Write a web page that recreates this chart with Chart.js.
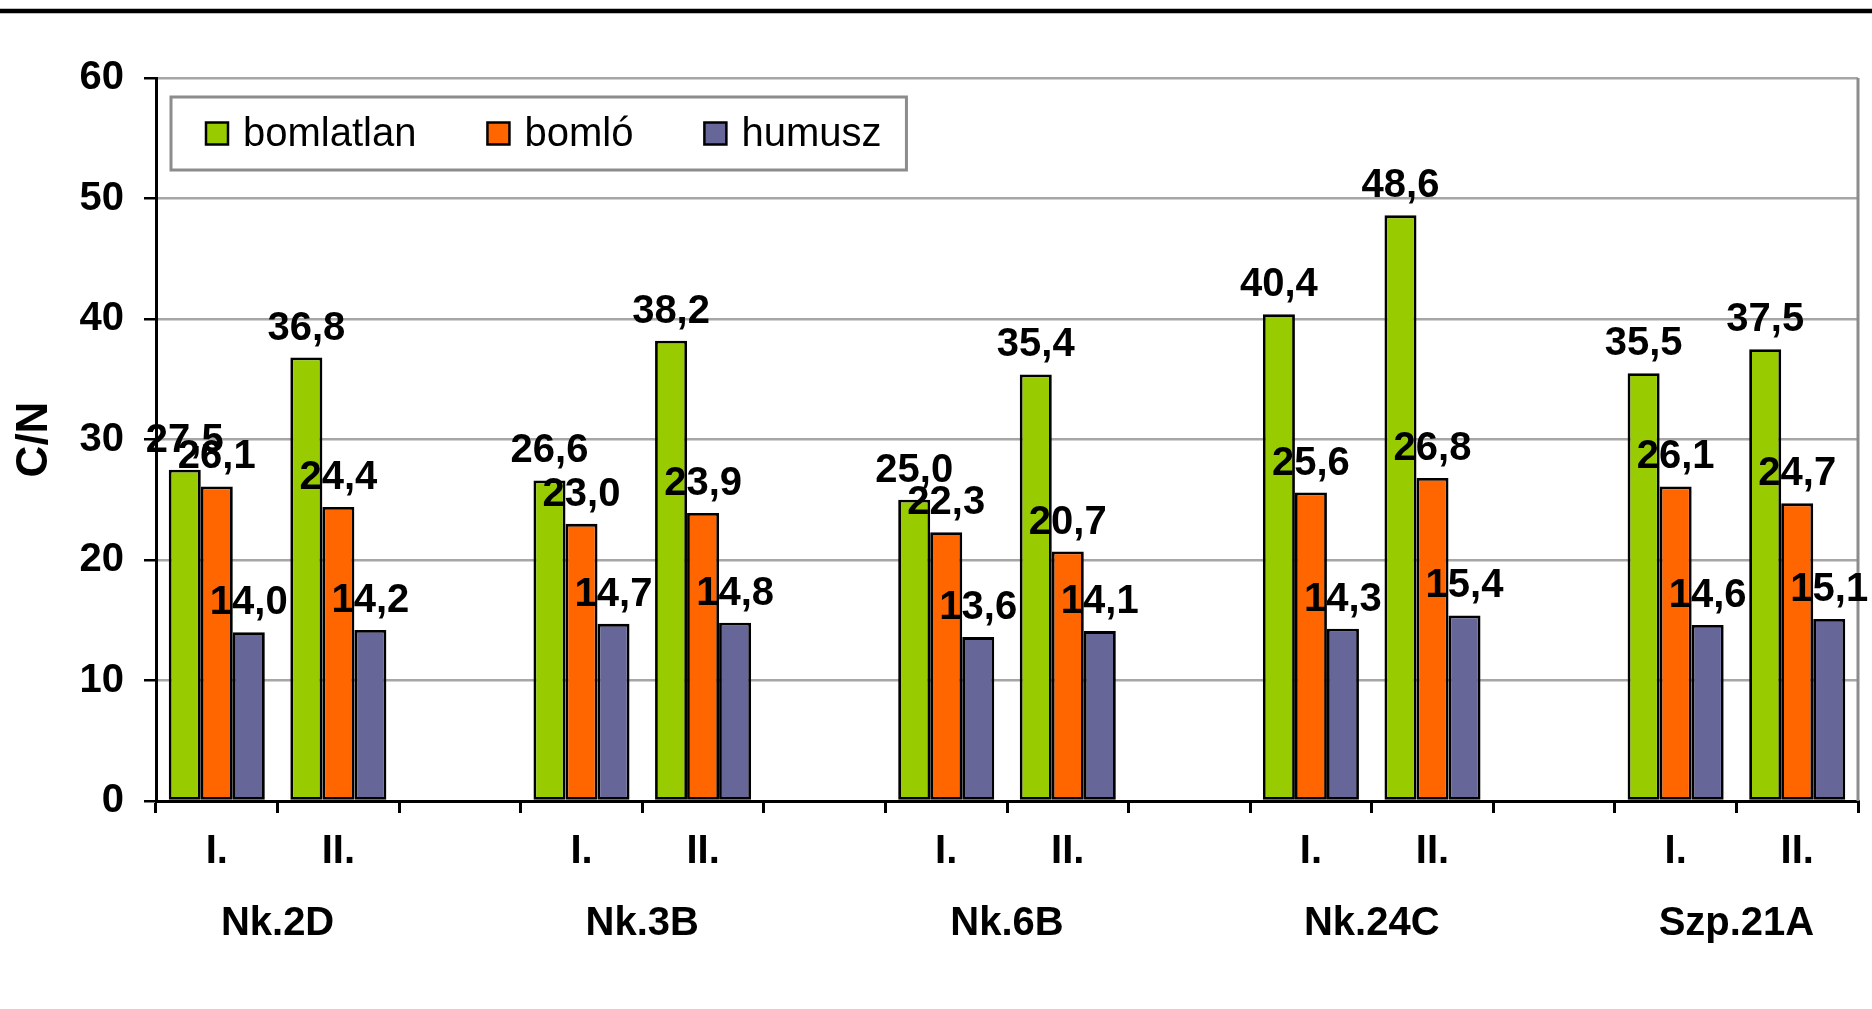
<!DOCTYPE html>
<html>
<head>
<meta charset="utf-8">
<script src="https://cdn.jsdelivr.net/npm/chart.js@4.4.0/dist/chart.umd.min.js"></script>
<style>
html,body{margin:0;padding:0;background:#fff;overflow:hidden;}
canvas{display:block;}
</style>
</head>
<body>
<canvas id="c" width="1872" height="1009"></canvas>
<script>
// ---- data ----
const categories = ['I.', 'II.', '', 'I.', 'II.', '', 'I.', 'II.', '', 'I.', 'II.', '', 'I.', 'II.'];
const groups = ['Nk.2D', 'Nk.3B', 'Nk.6B', 'Nk.24C', 'Szp.21A'];
const seriesNames = ['bomlatlan', 'bomló', 'humusz'];
const bomlatlan = [27.5, 36.8, null, 26.6, 38.2, null, 25.0, 35.4, null, 40.4, 48.6, null, 35.5, 37.5];
const bomlo     = [26.1, 24.4, null, 23.0, 23.9, null, 22.3, 20.7, null, 25.6, 26.8, null, 26.1, 24.7];
const humusz    = [14.0, 14.2, null, 14.7, 14.8, null, 13.6, 14.1, null, 14.3, 15.4, null, 14.6, 15.1];
const yTicks = [0, 10, 20, 30, 40, 50, 60];
const yTitle = 'C/N';

const colors = ['#99CC00', '#FF6600', '#666699'];
const FONT = '"Liberation Sans", Arial, sans-serif';

const extras = {
  id: 'extras',
  beforeDraw(chart) {
    const ctx = chart.ctx;
    ctx.save();
    ctx.fillStyle = '#fff';
    ctx.fillRect(0, 0, chart.width, chart.height);
    // top rule
    ctx.strokeStyle = '#000';
    ctx.lineWidth = 4.5;
    ctx.beginPath();
    ctx.moveTo(0, 11);
    ctx.lineTo(chart.width, 11);
    ctx.stroke();
    ctx.restore();
  },
  afterDraw(chart) {
    const ctx = chart.ctx;
    const ca = chart.chartArea;
    const x = chart.scales.x;
    ctx.save();
    // right plot border
    ctx.strokeStyle = '#8c8c8c';
    ctx.lineWidth = 3;
    ctx.beginPath();
    ctx.moveTo(ca.right, ca.top);
    ctx.lineTo(ca.right, ca.bottom);
    ctx.stroke();

    // y title
    ctx.fillStyle = '#000';
    ctx.font = 'bold 44px ' + FONT;
    ctx.textAlign = 'center';
    ctx.textBaseline = 'middle';
    ctx.save();
    ctx.translate(35, (ca.top + ca.bottom) / 2);
    ctx.rotate(-Math.PI / 2);
    ctx.fillText(yTitle, 0, 0);
    ctx.restore();

    // group labels
    ctx.font = 'bold 40px ' + FONT;
    groups.forEach((g, i) => {
      const p1 = x.getPixelForValue(i * 3);
      const p2 = x.getPixelForValue(i * 3 + 1);
      ctx.fillText(g, (p1 + p2) / 2, 924);
    });

    // data labels
    ctx.textBaseline = 'alphabetic';
    chart.data.datasets.forEach((ds, di) => {
      const meta = chart.getDatasetMeta(di);
      meta.data.forEach((el, i) => {
        const v = ds.data[i];
        if (v === null || v === undefined) return;
        ctx.fillText(v.toFixed(1).replace('.', ','), el.x, el.y - 18);
      });
    });

    // legend
    ctx.font = '40px ' + FONT;
    const padL = 35, padR = 25, sw = 22, gapT = 15, gapI = 71;
    let w = padL + padR;
    chart.data.datasets.forEach((ds, i) => {
      w += sw + gapT + ctx.measureText(ds.label).width;
      if (i < chart.data.datasets.length - 1) w += gapI;
    });
    const lx = ca.left + 15, ly = ca.top + 19, lh = 73;
    ctx.fillStyle = '#fff';
    ctx.fillRect(lx, ly, w, lh);
    ctx.strokeStyle = '#8c8c8c';
    ctx.lineWidth = 3;
    ctx.strokeRect(lx, ly, w, lh);
    let cx = lx + padL;
    const cy = ly + lh / 2;
    chart.data.datasets.forEach((ds, i) => {
      ctx.fillStyle = ds.backgroundColor;
      ctx.fillRect(cx, cy - sw / 2, sw, sw);
      ctx.strokeStyle = '#000';
      ctx.lineWidth = 2.5;
      ctx.strokeRect(cx, cy - sw / 2, sw, sw);
      cx += sw + gapT;
      ctx.fillStyle = '#000';
      ctx.textAlign = 'left';
      ctx.textBaseline = 'middle';
      ctx.fillText(ds.label, cx, cy + 1);
      cx += ctx.measureText(ds.label).width + gapI;
    });
    ctx.restore();
  }
};

new Chart(document.getElementById('c'), {
  type: 'bar',
  data: {
    labels: categories,
    datasets: [
      { label: seriesNames[0], data: bomlatlan, backgroundColor: colors[0] },
      { label: seriesNames[1], data: bomlo, backgroundColor: colors[1] },
      { label: seriesNames[2], data: humusz, backgroundColor: colors[2] }
    ].map(d => Object.assign(d, { borderColor: '#000', borderWidth: 2.8, borderSkipped: false,
      categoryPercentage: 0.79, barPercentage: 1.0 }))
  },
  options: {
    responsive: false,
    animation: false,
    devicePixelRatio: 1,
    layout: { padding: { top: 78, right: 14, left: 0, bottom: 0 } },
    plugins: { legend: { display: false }, tooltip: { enabled: false } },
    scales: {
      x: {
        afterFit(s) { s.height = 208; },
        grid: { offset: true, drawOnChartArea: false, drawTicks: true, tickLength: 12, color: '#000', lineWidth: 3 },
        border: { display: true, color: '#000', width: 3 },
        ticks: { color: '#000', font: { family: FONT, size: 40, weight: 'bold' }, padding: 15, maxRotation: 0, autoSkip: false }
      },
      y: {
        min: 0, max: 60,
        afterFit(s) { s.width = 156; },
        afterBuildTicks(s) { s.ticks = yTicks.map(v => ({ value: v })); },
        grid: { color: '#a6a6a6', lineWidth: 2.5, tickColor: '#000', tickLength: 12, drawTicks: true },
        border: { display: true, color: '#000', width: 3 },
        ticks: { color: '#000', font: { family: FONT, size: 40, weight: 'bold' }, padding: 20 }
      }
    }
  },
  plugins: [extras]
});
</script>
</body>
</html>
